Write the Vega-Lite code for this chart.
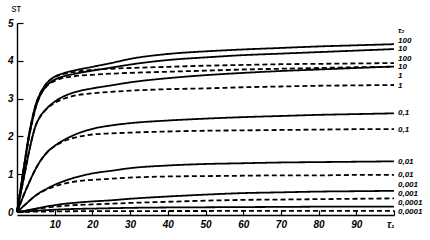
{
  "$schema": "https://vega.github.io/schema/vega-lite/v6.json",
  "width": 377,
  "height": 189,
  "autosize": "none",
  "padding": {"left": 17, "top": 23, "right": 36, "bottom": 28},
  "background": "white",
  "config": {
    "view": {"stroke": null},
    "axis": {
      "grid": false,
      "domainColor": "black",
      "domainWidth": 1.4,
      "tickColor": "black",
      "tickWidth": 1.2,
      "labelColor": "black",
      "labelFont": "Liberation Sans",
      "labelFontStyle": "italic",
      "labelFontWeight": "bold",
      "labelFontSize": 10,
      "labelOverlap": false,
      "titleColor": "black",
      "titleFont": "Liberation Sans",
      "titleFontStyle": "normal",
      "titleFontWeight": "normal",
      "titleFontSize": 10
    }
  },
  "encoding": {
    "x": {
      "field": "t",
      "type": "quantitative",
      "scale": {"domain": [0, 100], "nice": false},
      "axis": {
        "values": [10, 20, 30, 40, 50, 60, 70, 80, 90, 100],
        "labelExpr": "datum.value == 100 ? 'τ₁' : datum.label",
        "labelOverlap": false,
        "tickSize": -5,
        "labelPadding": 9,
        "offset": 3,
        "title": null
      }
    },
    "y": {
      "field": "s",
      "type": "quantitative",
      "scale": {"domain": [0, 5], "nice": false},
      "axis": {
        "values": [0, 1, 2, 3, 4, 5],
        "labelOverlap": false,
        "tickSize": -6,
        "labelPadding": 10,
        "title": "sт",
        "titleAngle": 0,
        "titleAlign": "left",
        "titleBaseline": "middle",
        "titleX": -6,
        "titleY": -15
      }
    }
  },
  "layer": [
    {
      "data": {
        "values": [
          {"t": 0, "s100": 0, "s10": 0, "d100": 0, "d10": 0, "s1": 0, "d1": 0, "s01": 0, "d01": 0, "s001": 0, "d001": 0, "s0001": 0, "d0001": 0, "s00001": 0, "d00001": 0},
          {"t": 1, "s100": 0.65, "s10": 0.62, "d100": 0.65, "d10": 0.62, "s1": 0.5, "d1": 0.5, "s01": 0.25, "d01": 0.25, "s001": 0.09, "d001": 0.09, "s0001": 0.015, "d0001": 0.015, "s00001": 0.005, "d00001": 0.002},
          {"t": 2, "s100": 1.3, "s10": 1.25, "d100": 1.3, "d10": 1.25, "s1": 1.0, "d1": 1.0, "s01": 0.5, "d01": 0.5, "s001": 0.18, "d001": 0.18, "s0001": 0.03, "d0001": 0.03, "s00001": 0.01, "d00001": 0.004},
          {"t": 3, "s100": 1.95, "s10": 1.88, "d100": 1.95, "d10": 1.88, "s1": 1.5, "d1": 1.5, "s01": 0.73, "d01": 0.73, "s001": 0.27, "d001": 0.27, "s0001": 0.05, "d0001": 0.045, "s00001": 0.018, "d00001": 0.006},
          {"t": 4, "s100": 2.45, "s10": 2.38, "d100": 2.45, "d10": 2.38, "s1": 1.95, "d1": 1.95, "s01": 0.95, "d01": 0.95, "s001": 0.36, "d001": 0.36, "s0001": 0.07, "d0001": 0.06, "s00001": 0.025, "d00001": 0.008},
          {"t": 5, "s100": 2.85, "s10": 2.78, "d100": 2.85, "d10": 2.78, "s1": 2.3, "d1": 2.3, "s01": 1.15, "d01": 1.15, "s001": 0.44, "d001": 0.44, "s0001": 0.09, "d0001": 0.075, "s00001": 0.032, "d00001": 0.01},
          {"t": 6, "s100": 3.1, "s10": 3.05, "d100": 3.1, "d10": 3.05, "s1": 2.5, "d1": 2.5, "s01": 1.32, "d01": 1.32, "s001": 0.51, "d001": 0.5, "s0001": 0.11, "d0001": 0.09, "s00001": 0.04, "d00001": 0.012},
          {"t": 8, "s100": 3.42, "s10": 3.35, "d100": 3.42, "d10": 3.34, "s1": 2.75, "d1": 2.74, "s01": 1.58, "d01": 1.58, "s001": 0.62, "d001": 0.6, "s0001": 0.15, "d0001": 0.12, "s00001": 0.05, "d00001": 0.014},
          {"t": 10, "s100": 3.58, "s10": 3.5, "d100": 3.57, "d10": 3.47, "s1": 2.92, "d1": 2.89, "s01": 1.75, "d01": 1.74, "s001": 0.72, "d001": 0.68, "s0001": 0.18, "d0001": 0.14, "s00001": 0.06, "d00001": 0.016},
          {"t": 12, "s100": 3.66, "s10": 3.58, "d100": 3.64, "d10": 3.54, "s1": 3.04, "d1": 2.98, "s01": 1.88, "d01": 1.85, "s001": 0.8, "d001": 0.74, "s0001": 0.21, "d0001": 0.16, "s00001": 0.07, "d00001": 0.018},
          {"t": 15, "s100": 3.74, "s10": 3.65, "d100": 3.7, "d10": 3.59, "s1": 3.16, "d1": 3.07, "s01": 2.03, "d01": 1.96, "s001": 0.9, "d001": 0.8, "s0001": 0.24, "d0001": 0.18, "s00001": 0.08, "d00001": 0.02},
          {"t": 20, "s100": 3.84, "s10": 3.74, "d100": 3.76, "d10": 3.63, "s1": 3.27, "d1": 3.14, "s01": 2.2, "d01": 2.05, "s001": 1.02, "d001": 0.85, "s0001": 0.28, "d0001": 0.2, "s00001": 0.09, "d00001": 0.022},
          {"t": 25, "s100": 3.94, "s10": 3.82, "d100": 3.79, "d10": 3.66, "s1": 3.35, "d1": 3.18, "s01": 2.29, "d01": 2.08, "s001": 1.09, "d001": 0.88, "s0001": 0.31, "d0001": 0.22, "s00001": 0.1, "d00001": 0.024},
          {"t": 30, "s100": 4.05, "s10": 3.9, "d100": 3.81, "d10": 3.68, "s1": 3.43, "d1": 3.21, "s01": 2.35, "d01": 2.1, "s001": 1.16, "d001": 0.91, "s0001": 0.35, "d0001": 0.24, "s00001": 0.11, "d00001": 0.025},
          {"t": 40, "s100": 4.18, "s10": 4.02, "d100": 3.84, "d10": 3.71, "s1": 3.54, "d1": 3.25, "s01": 2.42, "d01": 2.13, "s001": 1.23, "d001": 0.94, "s0001": 0.41, "d0001": 0.27, "s00001": 0.12, "d00001": 0.026},
          {"t": 50, "s100": 4.25, "s10": 4.09, "d100": 3.87, "d10": 3.74, "s1": 3.62, "d1": 3.27, "s01": 2.47, "d01": 2.15, "s001": 1.27, "d001": 0.95, "s0001": 0.46, "d0001": 0.3, "s00001": 0.125, "d00001": 0.027},
          {"t": 60, "s100": 4.3, "s10": 4.15, "d100": 3.89, "d10": 3.77, "s1": 3.68, "d1": 3.3, "s01": 2.51, "d01": 2.16, "s001": 1.29, "d001": 0.96, "s0001": 0.5, "d0001": 0.32, "s00001": 0.13, "d00001": 0.028},
          {"t": 70, "s100": 4.34, "s10": 4.19, "d100": 3.91, "d10": 3.79, "s1": 3.73, "d1": 3.32, "s01": 2.54, "d01": 2.17, "s001": 1.31, "d001": 0.97, "s0001": 0.52, "d0001": 0.33, "s00001": 0.135, "d00001": 0.029},
          {"t": 80, "s100": 4.38, "s10": 4.23, "d100": 3.92, "d10": 3.81, "s1": 3.77, "d1": 3.34, "s01": 2.57, "d01": 2.18, "s001": 1.32, "d001": 0.97, "s0001": 0.54, "d0001": 0.34, "s00001": 0.14, "d00001": 0.03},
          {"t": 90, "s100": 4.41, "s10": 4.27, "d100": 3.93, "d10": 3.83, "s1": 3.81, "d1": 3.35, "s01": 2.59, "d01": 2.19, "s001": 1.33, "d001": 0.98, "s0001": 0.55, "d0001": 0.35, "s00001": 0.14, "d00001": 0.03},
          {"t": 100, "s100": 4.44, "s10": 4.31, "d100": 3.94, "d10": 3.84, "s1": 3.85, "d1": 3.36, "s01": 2.61, "d01": 2.19, "s001": 1.34, "d001": 0.98, "s0001": 0.56, "d0001": 0.36, "s00001": 0.14, "d00001": 0.03}
        ]
      },
      "transform": [
        {"fold": ["s100", "s10", "d100", "d10", "s1", "d1", "s01", "d01", "s001", "d001", "s0001", "d0001", "s00001", "d00001"], "as": ["curve", "s"]}
      ],
      "mark": {"type": "line", "interpolate": "monotone", "color": "black", "strokeWidth": 1.8, "clip": false},
      "encoding": {
        "detail": {"field": "curve", "type": "nominal"},
        "strokeDash": {
          "field": "curve",
          "type": "nominal",
          "scale": {
            "domain": ["s100", "s10", "d100", "d10", "s1", "d1", "s01", "d01", "s001", "d001", "s0001", "d0001", "s00001", "d00001"],
            "range": [[1, 0], [1, 0], [5, 3], [5, 3], [1, 0], [5, 3], [1, 0], [5, 3], [1, 0], [5, 3], [1, 0], [5, 3], [1, 0], [5, 3]]
          },
          "legend": null
        }
      }
    },
    {
      "data": {
        "values": [
          {"label": "τ₂", "t": 100, "s": 4.8},
          {"label": "100", "t": 100, "s": 4.53},
          {"label": "10", "t": 100, "s": 4.3},
          {"label": "100", "t": 100, "s": 4.06},
          {"label": "10", "t": 100, "s": 3.83},
          {"label": "1", "t": 100, "s": 3.59},
          {"label": "1", "t": 100, "s": 3.34},
          {"label": "0,1", "t": 100, "s": 2.62},
          {"label": "0,1", "t": 100, "s": 2.17},
          {"label": "0,01", "t": 100, "s": 1.33},
          {"label": "0,01", "t": 100, "s": 0.97},
          {"label": "0,001", "t": 100, "s": 0.72},
          {"label": "0,001", "t": 100, "s": 0.47},
          {"label": "0,0001", "t": 100, "s": 0.23},
          {"label": "0,0001", "t": 100, "s": 0.0}
        ]
      },
      "mark": {
        "type": "text",
        "align": "left",
        "baseline": "middle",
        "dx": 4,
        "font": "Liberation Sans",
        "fontStyle": "italic",
        "fontWeight": "bold",
        "fontSize": 8,
        "color": "black",
        "clip": false
      },
      "encoding": {
        "text": {"field": "label", "type": "nominal"}
      }
    }
  ]
}
